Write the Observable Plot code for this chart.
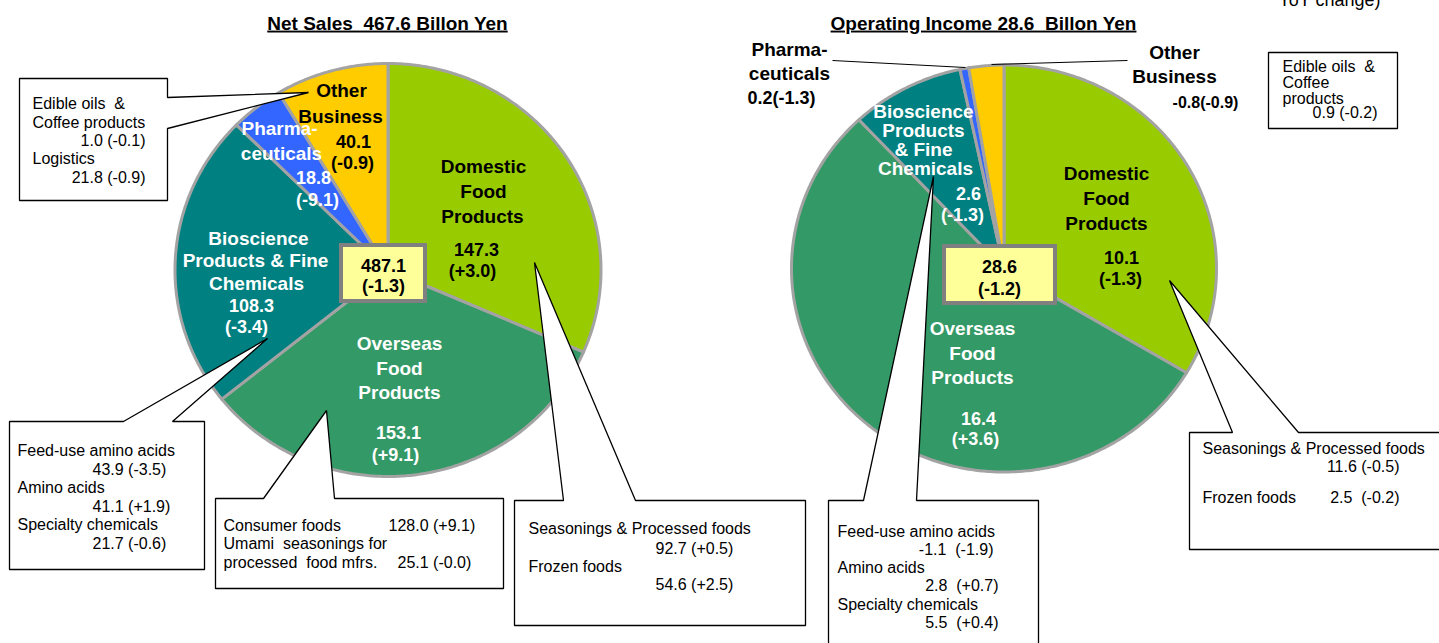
<!DOCTYPE html>
<html>
<head>
<meta charset="utf-8">
<script src="https://cdn.jsdelivr.net/npm/d3@7"></script>
<script src="https://cdn.jsdelivr.net/npm/@observablehq/plot@0.6"></script>
<style>
  html, body { margin: 0; padding: 0; background: #fff; overflow: hidden; }
  svg text { white-space: pre; }
</style>
</head>
<body>
<div id="chart"></div>
<script>
// ---------------- DATA ----------------
const segments = ["Domestic Food Products", "Overseas Food Products", "Bioscience Products & Fine Chemicals", "Pharmaceuticals", "Other Business"];
const segmentLinesSales = [["Domestic", "Food", "Products"], ["Overseas", "Food", "Products"], ["Bioscience", "Products & Fine", "Chemicals"], ["Pharma-", "ceuticals"], ["Other", "Business"]];
const segmentLinesIncome = [["Domestic", "Food", "Products"], ["Overseas", "Food", "Products"], ["Bioscience", "Products", "& Fine", "Chemicals"], ["Pharma-", "ceuticals"], ["Other", "Business"]];

const netSales = [147.3, 153.1, 108.3, 18.8, 40.1];
const netSalesChange = [3.0, 9.1, -3.4, -9.1, -0.9];
const netSalesCenter = [487.1, -1.3];

const opIncome = [10.1, 16.4, 2.6, 0.2, -0.8];
const opIncomeChange = [-1.3, 3.6, -1.3, -1.3, -0.9];
const opIncomeCenter = [28.6, -1.2];

const titles = ["Net Sales  467.6 Billon Yen", "Operating Income 28.6  Billon Yen"];
const noteText = "YoY change)";

// breakdowns – net sales
const salesOtherNames = ["Edible oils  &\nCoffee products", "Logistics"];
const salesOtherValues = [1.0, 21.8];
const salesOtherChanges = [-0.1, -0.9];
const salesBioNames = ["Feed-use amino acids", "Amino acids", "Specialty chemicals"];
const salesBioValues = [43.9, 41.1, 21.7];
const salesBioChanges = [-3.5, 1.9, -0.6];
const salesOverseasNames = ["Consumer foods", "Umami  seasonings for\nprocessed  food mfrs."];
const salesOverseasValues = [128.0, 25.1];
const salesOverseasChanges = [9.1, -0.0];
const salesDomesticNames = ["Seasonings & Processed foods", "Frozen foods"];
const salesDomesticValues = [92.7, 54.6];
const salesDomesticChanges = [0.5, 2.5];

// breakdowns – operating income
const incomeBioNames = ["Feed-use amino acids", "Amino acids", "Specialty chemicals"];
const incomeBioValues = [-1.1, 2.8, 5.5];
const incomeBioChanges = [-1.9, 0.7, 0.4];
const incomeOtherNames = ["Edible oils  &\nCoffee\nproducts"];
const incomeOtherValues = [0.9];
const incomeOtherChanges = [-0.2];
const incomeDomesticNames = ["Seasonings & Processed foods", "Frozen foods"];
const incomeDomesticValues = [11.6, 2.5];
const incomeDomesticChanges = [-0.5, -0.2];

// ---------------- STYLE / LAYOUT ----------------
const W = 1439, H = 643;
const FONT = '"Liberation Sans", Arial, Helvetica, sans-serif';
const sliceColors = ["#99CC00", "#339966", "#008080", "#3366FF", "#FFCC00"];
const sliceStroke = "#a3a3a3";

const fmtV = v => v.toFixed(1);
const fmtC = c => "(" + (c > 0 ? "+" : (c < 0 || Object.is(c, -0)) ? "-" : "") + Math.abs(c).toFixed(1) + ")";
const pair = (v, c, sep = " ") => fmtV(v) + sep + fmtC(c);

function slices(values, cx, cy, rx, ry) {
  const arcs = d3.pie().sort(null).value(d => Math.abs(d)).startAngle(0).endAngle(2 * Math.PI)(values);
  return arcs.map((a, i) => {
    const n = Math.max(2, Math.ceil((a.endAngle - a.startAngle) / 0.01));
    const pts = [{x: cx, y: cy}];
    for (let k = 0; k <= n; k++) {
      const t = a.startAngle + (a.endAngle - a.startAngle) * k / n;
      pts.push({x: cx + rx * Math.sin(t), y: cy - ry * Math.cos(t)});
    }
    return {i, pts};
  });
}

function callout(x1, y1, x2, y2, side, a, b, tip) {
  let p;
  if (side === "top") p = [[a, y1], [x1, y1], [x1, y2], [x2, y2], [x2, y1], [b, y1], tip];
  else if (side === "right") p = [[x2, b], [x2, y2], [x1, y2], [x1, y1], [x2, y1], [x2, a], tip];
  else p = [[x1, y1], [x2, y1], [x2, y2], [x1, y2]];
  return p.map(([x, y]) => ({x, y}));
}

const T = [];
const add = (x, y, t, o = {}) => T.push({x, y, t, s: o.s ?? 16, c: o.c ?? "#000", w: o.w ?? "normal", a: o.a ?? "start"});

// Pie label layout
const pie1 = {cx: 387.5, cy: 269.5, rx: 213, ry: 206.5};
const pie2 = {cx: 1003.5, cy: 268, rx: 212.5, ry: 203.5};

const lab1 = [
  {xs: [483, 483, 482], ys: [166, 191, 216], v: [476, 250], c: [472, 271], col: "#000"},
  {xs: [399, 399, 399], ys: [343, 368, 392], v: [398, 433], c: [395, 455], col: "#fff"},
  {xs: [258, 255, 256], ys: [238, 260, 283], v: [251, 306], c: [246, 327], col: "#fff"},
  {xs: [279, 281], ys: [128, 153], v: [313, 178], c: [317, 200], col: "#fff"},
  {xs: [341, 340], ys: [90, 116], v: [353, 142], c: [352, 163], col: "#000"}
];
lab1.forEach((L, i) => {
  segmentLinesSales[i].forEach((s, k) => add(L.xs[k], L.ys[k], s, {s: 19, c: L.col, w: "bold", a: "middle"}));
  add(L.v[0], L.v[1], fmtV(netSales[i]), {s: 18, c: L.col, w: "bold", a: "middle"});
  add(L.c[0], L.c[1], fmtC(netSalesChange[i]), {s: 18, c: L.col, w: "bold", a: "middle"});
});

const lab2 = [
  {xs: [1106, 1106, 1106], ys: [173, 198, 223], v: [1121, 258], c: [1120, 279], col: "#000"},
  {xs: [972, 972, 972], ys: [328, 353, 377], v: [978, 419], c: [975, 439], col: "#fff"},
  {xs: [923, 923, 923, 925], ys: [111, 130, 149, 168], v: [968, 194], c: [962, 215], col: "#fff"},
  {xs: [789, 789], ys: [49, 73], vc: [781, 98], s: 18, col: "#000"},
  {xs: [1174, 1174], ys: [52, 76], vc: [1205, 102], s: 16, col: "#000"}
];
lab2.forEach((L, i) => {
  segmentLinesIncome[i].forEach((s, k) => add(L.xs[k], L.ys[k], s, {s: 19, c: L.col, w: "bold", a: "middle"}));
  if (L.vc) {
    add(L.vc[0], L.vc[1], fmtV(opIncome[i]) + fmtC(opIncomeChange[i]), {s: L.s, c: L.col, w: "bold", a: "middle"});
  } else {
    add(L.v[0], L.v[1], fmtV(opIncome[i]), {s: 18, c: L.col, w: "bold", a: "middle"});
    add(L.c[0], L.c[1], fmtC(opIncomeChange[i]), {s: 18, c: L.col, w: "bold", a: "middle"});
  }
});

// Center boxes
const centerBoxes = [
  {x1: 341, x2: 425, y1: 245, y2: 301},
  {x1: 944, x2: 1055, y1: 246, y2: 303}
];
add(383, 266, fmtV(netSalesCenter[0]), {s: 18, w: "bold", a: "middle"});
add(383, 286, fmtC(netSalesCenter[1]), {s: 18, w: "bold", a: "middle"});
add(999, 267, fmtV(opIncomeCenter[0]), {s: 18, w: "bold", a: "middle"});
add(999, 289, fmtC(opIncomeCenter[1]), {s: 18, w: "bold", a: "middle"});

// Titles and note
add(387, 23, titles[0], {s: 19, w: "bold", a: "middle"});
add(983, 23, titles[1], {s: 19, w: "bold", a: "middle"});
add(1329, 0, noteText, {s: 18, a: "middle"});

// Breakdown boxes text
// Box A (sales: other business)
{
  const l = salesOtherNames[0].split("\n");
  add(32, 103, l[0]); add(32, 122, l[1]);
  add(145, 140, pair(salesOtherValues[0], salesOtherChanges[0]), {a: "end"});
  add(32, 158, salesOtherNames[1]);
  add(145, 177, pair(salesOtherValues[1], salesOtherChanges[1]), {a: "end"});
}
// Box B (sales: bioscience)
salesBioNames.forEach((n, k) => {
  add(17, 450 + k * 37, n);
  add(92, 469 + k * 37, pair(salesBioValues[k], salesBioChanges[k]));
});
// Box C (sales: overseas)
{
  add(223, 525, salesOverseasNames[0]);
  add(388, 525, pair(salesOverseasValues[0], salesOverseasChanges[0]));
  const l = salesOverseasNames[1].split("\n");
  add(223, 543, l[0]); add(223, 562, l[1]);
  add(397, 562, pair(salesOverseasValues[1], salesOverseasChanges[1]));
}
// Box D (sales: domestic)
salesDomesticNames.forEach((n, k) => {
  add(528, 528 + k * 38, n);
  add(655, 548 + k * 36, pair(salesDomesticValues[k], salesDomesticChanges[k]));
});
// Box E (income: bioscience)
incomeBioNames.forEach((n, k) => {
  add(837, 531 + k * 36.5, n);
  add(k === 0 ? 993 : 998, 549 + k * 36.5, pair(incomeBioValues[k], incomeBioChanges[k], "  "), {a: "end"});
});
// Box F (income: other)
{
  const l = incomeOtherNames[0].split("\n");
  l.forEach((s, k) => add(1282, 66 + k * 16, s));
  add(1377, 112, pair(incomeOtherValues[0], incomeOtherChanges[0]), {a: "end"});
}
// Box G (income: domestic)
add(1202, 448, incomeDomesticNames[0]);
add(1399, 466, pair(incomeDomesticValues[0], incomeDomesticChanges[0]), {a: "end"});
add(1202, 497, incomeDomesticNames[1]);
add(1399, 497, pair(incomeDomesticValues[1], incomeDomesticChanges[1], "  "), {a: "end"});

// Callout shapes
const callouts = [
  callout(19, 78, 167, 200, "right", 97, 128, [308, 92]),
  callout(9, 421, 204, 569, "top", 123, 172, [267, 338]),
  callout(215, 498, 503, 588, "top", 263, 334, [326, 410]),
  callout(514, 500, 805, 625, "top", 563, 635, [534, 262]),
  callout(828, 500, 1038, 680, "top", 863, 916, [933, 176]),
  callout(1268, 52, 1397, 128, "plain"),
  callout(1189, 432, 1460, 549, "top", 1232, 1298, [1169, 280])
];
const leaders = [
  {x1: 832, y1: 60, x2: 965, y2: 67},
  {x1: 991, y1: 64, x2: 1127, y2: 60}
];

// ---------------- MARKS ----------------
const marks = [];
for (const [vals, P] of [[netSales, pie1], [opIncome, pie2]]) {
  for (const s of slices(vals, P.cx, P.cy, P.rx, P.ry)) {
    marks.push(Plot.line(s.pts, {x: "x", y: "y", fill: sliceColors[s.i], stroke: sliceStroke, strokeWidth: 3, strokeLinejoin: "round", curve: "linear-closed"}));
  }
}
marks.push(Plot.rect(centerBoxes, {x1: "x1", x2: "x2", y1: "y1", y2: "y2", fill: "#FFFF99", stroke: "#808080", strokeWidth: 4}));
marks.push(Plot.link(leaders, {x1: "x1", y1: "y1", x2: "x2", y2: "y2", stroke: "#000", strokeWidth: 1}));
for (const c of callouts) {
  marks.push(Plot.line(c, {x: "x", y: "y", fill: "#fff", stroke: "#000", strokeWidth: 1.3, strokeLinejoin: "miter", curve: "linear-closed"}));
}
for (const w of ["normal", "bold"]) {
  for (const a of ["start", "middle", "end"]) {
    const d = T.filter(t => t.w === w && t.a === a);
    if (!d.length) continue;
    marks.push(Plot.text(d, {x: "x", y: "y", text: "t", fill: "c", fontSize: "s", fontWeight: w, textAnchor: a, lineAnchor: "middle", fontFamily: FONT}));
  }
}

const chart = Plot.plot({
  width: W,
  height: H,
  margin: 0,
  x: {domain: [0, W], range: [0, W], axis: null},
  y: {domain: [0, H], range: [0, H], axis: null},
  color: {type: "identity"},
  style: {fontFamily: FONT, background: "#fff", overflow: "hidden"},
  marks
});
chart.querySelectorAll("text").forEach(el => {
  if (titles.includes(el.textContent)) el.setAttribute("text-decoration", "underline");
});
document.getElementById("chart").append(chart);
</script>
</body>
</html>
